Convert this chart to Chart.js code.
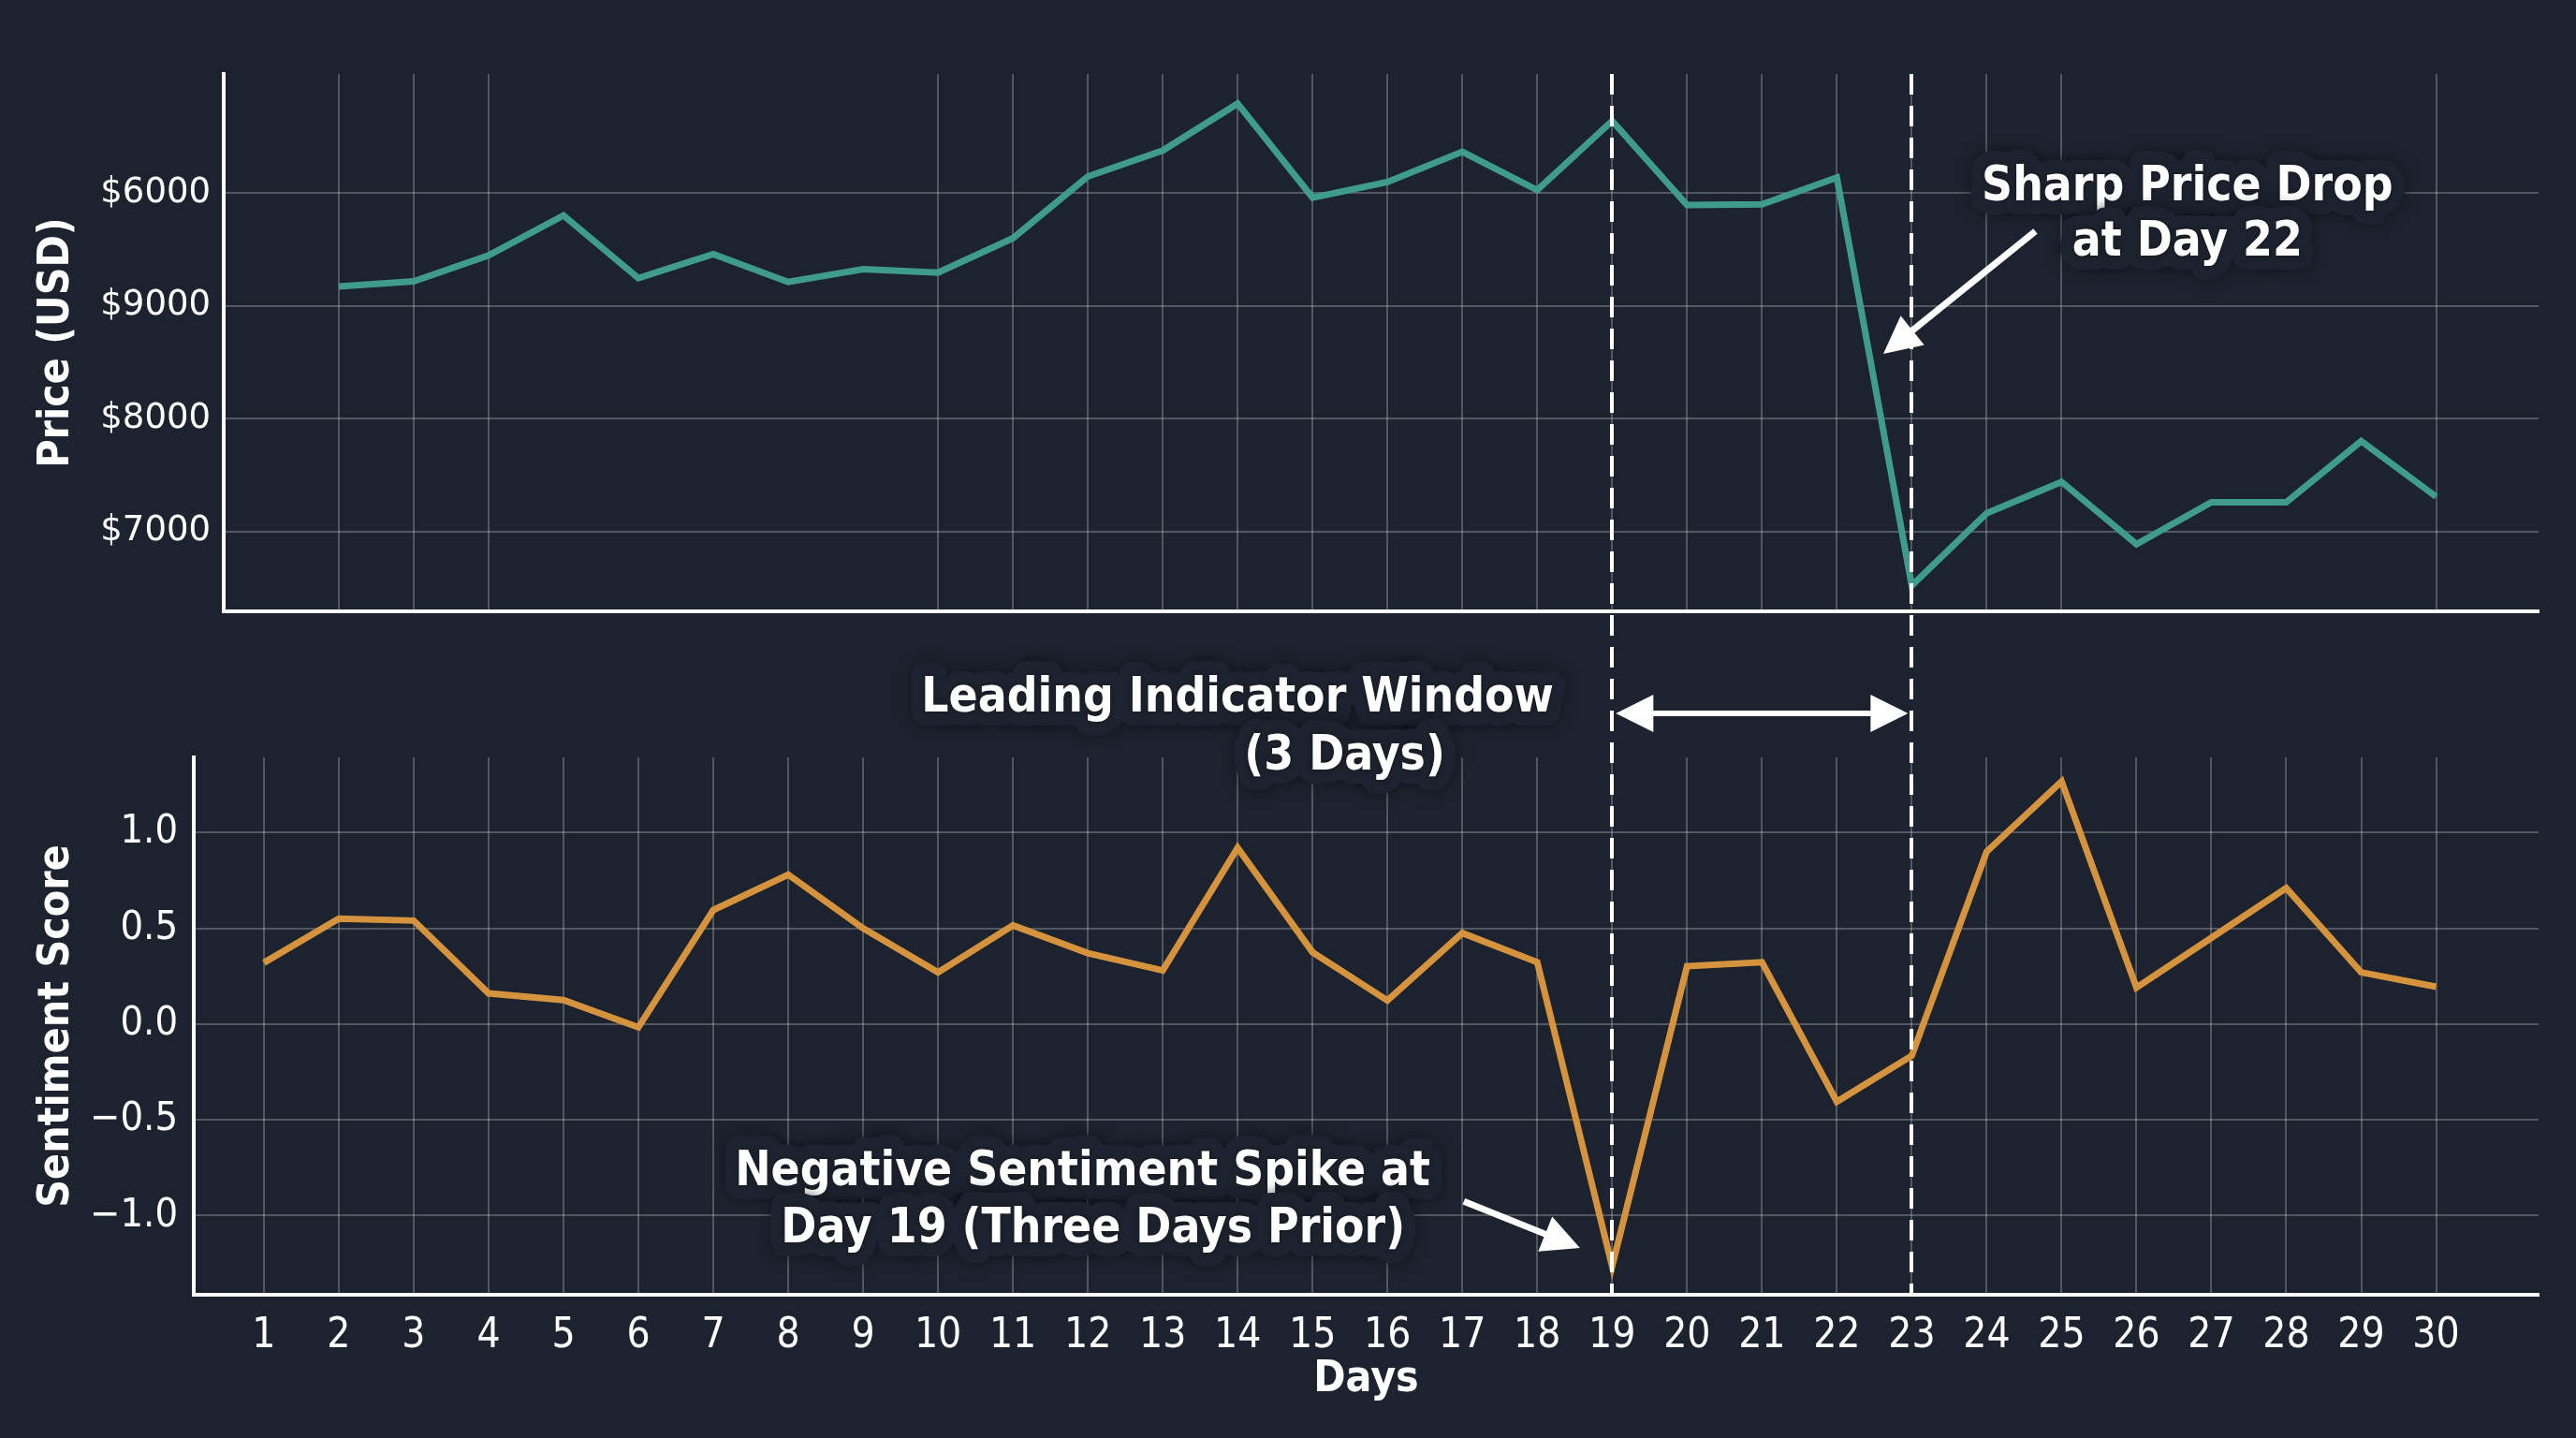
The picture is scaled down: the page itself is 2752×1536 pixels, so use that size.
<!DOCTYPE html>
<html>
<head>
<meta charset="utf-8">
<script src="https://cdn.jsdelivr.net/npm/chart.js@4.4.1/dist/chart.umd.min.js"></script>
<style>
  html, body { margin: 0; padding: 0; background: #1d232e; }
  #wrap { position: relative; width: 2752px; height: 1536px; background: #1d232e; }
  canvas { position: absolute; left: 0; top: 0; }
</style>
</head>
<body>
<div id="wrap">
  <canvas id="priceCanvas" width="2752" height="1536"></canvas>
  <canvas id="sentCanvas" width="2752" height="1536"></canvas>
</div>
<script>
// ---------------- DATA ----------------
const days = [1,2,3,4,5,6,7,8,9,10,11,12,13,14,15,16,17,18,19,20,21,22,23,24,25,26,27,28,29,30];
const price = [null, 9172, 9218, 9448, 9802, 9245, 9458, 9212, 9326, 9294, 9599, 10147, 10377, 10793, 9960,
               10098, 10367, 10026, 10639, 9894, 9900, 10137, 6521, 7161, 7440, 6888, 7259, 7259, 7801, 7309];
const sentiment = [0.32, 0.55, 0.54, 0.16, 0.125, -0.017, 0.595, 0.78, 0.50, 0.27, 0.515, 0.37, 0.28, 0.92, 0.375,
                   0.123, 0.475, 0.323, -1.264, 0.302, 0.323, -0.405, -0.165, 0.90, 1.267, 0.19, 0.45, 0.71, 0.27, 0.195];
const priceTickValues = [7000, 8000, 9000, 10000];
const priceTickLabels = ['$7000', '$8000', '$9000', '$6000'];
const sentimentTickValues = [-1.0, -0.5, 0.0, 0.5, 1.0];
const sentimentTickLabels = ['\u22121.0', '\u22120.5', '0.0', '0.5', '1.0'];
const windowDays = [19, 23];
const priceGridDays = [2, 3, 4, 10, 11, 12, 13, 14, 15, 16, 17, 18, 19, 20, 21, 22, 23, 24, 25, 30];
const sentimentGridDays = days;

// ---------------- STYLE ----------------
const BG = '#1d232e';
const GRID = 'rgba(255,255,255,0.24)';
const TEAL = '#3f9c8c';
const ORANGE = '#d6933e';
const REG = '"DejaVu Sans", sans-serif';
const COND = '"DejaVu Sans Condensed", "DejaVu Sans", sans-serif';
const W = 2752, H = 1536;

const xMinPrice = 0.464, xMinSent = 0.064, xMax = 31.368;

function explicitTicks(values) {
  return scale => { scale.ticks = values.map(v => ({ value: v })); };
}

// vertical grid lines drawn inside each panel's own plot area
function vGridPlugin(gridDays) {
  return {
    id: 'vGrid',
    beforeDatasetsDraw(chart) {
      const ctx = chart.ctx, xs = chart.scales.x, a = chart.chartArea;
      ctx.save();
      ctx.beginPath();
      ctx.rect(a.left, a.top, a.right - a.left, a.bottom - a.top);
      ctx.clip();
      ctx.strokeStyle = GRID;
      ctx.lineWidth = 2;
      gridDays.forEach(d => {
        const x = Math.round(xs.getPixelForValue(d));
        ctx.beginPath(); ctx.moveTo(x, a.top); ctx.lineTo(x, a.bottom); ctx.stroke();
      });
      ctx.restore();
    }
  };
}

// ---------------- TOP: PRICE ----------------
const priceChart = new Chart(document.getElementById('priceCanvas'), {
  type: 'line',
  data: {
    datasets: [{
      data: days.map((d, i) => ({ x: d, y: price[i] })),
      borderColor: TEAL, borderWidth: 7, pointRadius: 0, tension: 0,
      borderJoinStyle: 'miter', fill: false
    }]
  },
  options: {
    responsive: false, animation: false, devicePixelRatio: 1,
    layout: { padding: { left: 0, right: 40, top: 79, bottom: H - 653 } },
    plugins: { legend: { display: false }, tooltip: { enabled: false } },
    scales: {
      x: {
        type: 'linear', min: xMinPrice, max: xMax,
        afterBuildTicks: explicitTicks(days),
        afterFit: s => { s.height = 0; },
        ticks: { display: false },
        grid: { display: false, drawTicks: false },
        border: { display: true, color: '#ffffff', width: 4 }
      },
      y: {
        type: 'linear', min: 6292, max: 11056,
        afterBuildTicks: explicitTicks(priceTickValues),
        afterFit: s => { s.width = 239; },
        ticks: {
          color: '#ffffff', font: { family: REG, size: 37 }, padding: 14,
          callback: v => priceTickLabels[priceTickValues.indexOf(v)]
        },
        grid: { color: GRID, lineWidth: 2, drawTicks: false },
        border: { color: '#ffffff', width: 4 },
        title: { display: true, text: 'Price (USD)', color: '#ffffff',
                 font: { family: COND, size: 46, weight: 'bold' }, padding: { top: 33, bottom: 0 } }
      }
    }
  },
  plugins: [vGridPlugin(priceGridDays)]
});

// ---------------- ANNOTATIONS ----------------
const notes = {
  drop: { lines: ['Sharp Price Drop', 'at Day 22'], day: 26.68, values: [9935, 9446],
          arrowFrom: [24.65, 9661], arrowTo: [22.62, 8574] },
  spike: { lines: ['Negative Sentiment Spike at', 'Day 19 (Three Days Prior)'], days: [11.93, 12.07], values: [-0.843, -1.14],
           arrowFrom: [17.02, -0.925], arrowTo: [18.57, -1.169] },
  window: { lines: ['Leading Indicator Window', '(3 Days)'], days: [14.0, 15.43], offsets: [-49, 13] }
};

function haloText(ctx, text, x, y) {
  ctx.save();
  ctx.font = 'bold 51px ' + COND;
  ctx.textAlign = 'center';
  ctx.textBaseline = 'alphabetic';
  ctx.lineJoin = 'round';
  ctx.strokeStyle = BG;
  ctx.lineWidth = 30;
  ctx.shadowColor = 'rgba(10,14,20,0.6)';
  ctx.shadowBlur = 14;
  ctx.strokeText(text, x, y);
  ctx.shadowBlur = 4;
  ctx.shadowColor = 'rgba(0,0,0,0.5)';
  ctx.fillStyle = '#ffffff';
  ctx.fillText(text, x, y);
  ctx.restore();
}

function head(ctx, tx, ty, ang, len, half) {
  ctx.beginPath();
  ctx.moveTo(tx, ty);
  ctx.lineTo(tx - len * Math.cos(ang) + half * Math.sin(ang), ty - len * Math.sin(ang) - half * Math.cos(ang));
  ctx.lineTo(tx - len * Math.cos(ang) - half * Math.sin(ang), ty - len * Math.sin(ang) + half * Math.cos(ang));
  ctx.closePath();
  ctx.fill();
}

function arrow(ctx, x1, y1, x2, y2, lw) {
  const ang = Math.atan2(y2 - y1, x2 - x1);
  const len = 40;
  ctx.save();
  ctx.strokeStyle = '#ffffff'; ctx.fillStyle = '#ffffff';
  ctx.lineWidth = lw; ctx.lineCap = 'butt';
  ctx.beginPath();
  ctx.moveTo(x1, y1);
  ctx.lineTo(x2 - (len - 4) * Math.cos(ang), y2 - (len - 4) * Math.sin(ang));
  ctx.stroke();
  head(ctx, x2, y2, ang, len, 20);
  ctx.restore();
}

const annotatePlugin = {
  id: 'annotate',
  afterDraw(chart) {
    const ctx = chart.ctx;
    const xs = chart.scales.x, ys = chart.scales.y;
    const pys = priceChart.scales.y;
    const px = d => xs.getPixelForValue(d);

    // texts
    const dn = notes.drop;
    dn.lines.forEach((t, i) => haloText(ctx, t, px(dn.day), pys.getPixelForValue(dn.values[i])));
    const sn = notes.spike;
    sn.lines.forEach((t, i) => haloText(ctx, t, px(sn.days[i]), ys.getPixelForValue(sn.values[i])));
    const wn = notes.window;
    wn.lines.forEach((t, i) => haloText(ctx, t, px(wn.days[i]), chart.chartArea.top + wn.offsets[i]));

    // dashed window lines
    ctx.save();
    ctx.strokeStyle = '#ffffff';
    ctx.lineWidth = 4;
    ctx.setLineDash([22, 12]);
    const top = priceChart.chartArea.top, bottom = chart.chartArea.bottom;
    windowDays.forEach(d => {
      const x = Math.round(px(d));
      ctx.beginPath(); ctx.moveTo(x, top); ctx.lineTo(x, bottom); ctx.stroke();
    });
    ctx.restore();

    // double arrow between the window lines
    const ay = chart.chartArea.top - 47;
    const xa = px(windowDays[0]) + 4, xb = px(windowDays[1]) - 4;
    ctx.save();
    ctx.strokeStyle = '#ffffff'; ctx.fillStyle = '#ffffff'; ctx.lineWidth = 6;
    ctx.beginPath(); ctx.moveTo(xa + 30, ay); ctx.lineTo(xb - 30, ay); ctx.stroke();
    head(ctx, xa, ay, Math.PI, 40, 20);
    head(ctx, xb, ay, 0, 40, 20);
    ctx.restore();

    // pointer arrows
    arrow(ctx, px(dn.arrowFrom[0]), pys.getPixelForValue(dn.arrowFrom[1]),
               px(dn.arrowTo[0]), pys.getPixelForValue(dn.arrowTo[1]), 7);
    arrow(ctx, px(sn.arrowFrom[0]), ys.getPixelForValue(sn.arrowFrom[1]),
               px(sn.arrowTo[0]), ys.getPixelForValue(sn.arrowTo[1]), 7);
  }
};

// ---------------- BOTTOM: SENTIMENT ----------------
const sentChart = new Chart(document.getElementById('sentCanvas'), {
  type: 'line',
  data: {
    datasets: [{
      data: days.map((d, i) => ({ x: d, y: sentiment[i] })),
      borderColor: ORANGE, borderWidth: 7, pointRadius: 0, tension: 0,
      borderJoinStyle: 'miter', fill: false
    }]
  },
  options: {
    responsive: false, animation: false, devicePixelRatio: 1,
    layout: { padding: { left: 0, right: 40, top: 809, bottom: 0 } },
    plugins: { legend: { display: false }, tooltip: { enabled: false } },
    scales: {
      x: {
        type: 'linear', min: xMinSent, max: xMax,
        afterBuildTicks: explicitTicks(days),
        afterFit: s => { s.height = H - 1383; },
        ticks: { color: '#ffffff', font: { family: COND, size: 44 }, padding: 18,
                 autoSkip: false, maxRotation: 0, callback: v => String(v) },
        grid: { display: false, drawTicks: false },
        border: { display: true, color: '#ffffff', width: 4 },
        title: { display: true, text: 'Days', color: '#ffffff',
                 font: { family: COND, size: 46, weight: 'bold' }, padding: { top: 0, bottom: 34 } }
      },
      y: {
        type: 'linear', min: -1.413, max: 1.392,
        afterBuildTicks: explicitTicks(sentimentTickValues),
        afterFit: s => { s.width = 207; },
        ticks: { color: '#ffffff', font: { family: COND, size: 43 }, padding: 17,
                 callback: v => sentimentTickLabels[sentimentTickValues.indexOf(v)] },
        grid: { color: GRID, lineWidth: 2, drawTicks: false },
        border: { color: '#ffffff', width: 4 },
        title: { display: true, text: 'Sentiment Score', color: '#ffffff',
                 font: { family: COND, size: 46, weight: 'bold' }, padding: { top: 33, bottom: 0 } }
      }
    }
  },
  plugins: [vGridPlugin(sentimentGridDays), annotatePlugin]
});
</script>
</body>
</html>
